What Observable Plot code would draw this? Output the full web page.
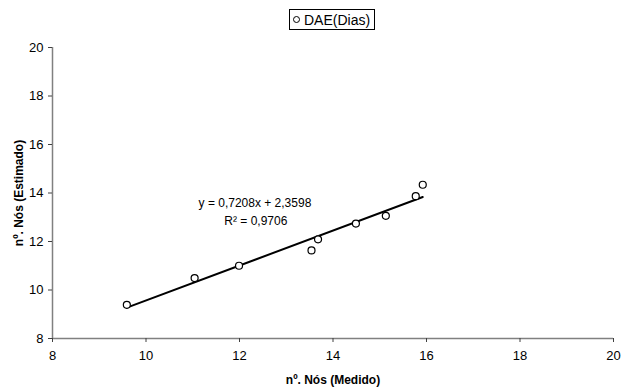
<!DOCTYPE html>
<html>
<head>
<meta charset="utf-8">
<script src="https://cdn.jsdelivr.net/npm/d3@7"></script>
<script src="https://cdn.jsdelivr.net/npm/@observablehq/plot@0.6"></script>
<style>
  html, body { margin: 0; padding: 0; background: #fff; }
  body { width: 626px; height: 389px; overflow: hidden; font-family: "Liberation Sans", Arial, sans-serif; }
  #legend { position: relative; height: 40px; }
  #legend .box { position: absolute; left: 289px; top: 9px; width: 84px; height: 19px; border: 1px solid #000; box-sizing: content-box; display: flex; align-items: center; font-size: 14px; color: #000; }
  #legend svg { margin-left: 2px; margin-right: 3px; }
</style>
</head>
<body>
<div id="legend"><div class="box"><svg width="9" height="9"><circle cx="4.5" cy="4.5" r="3" fill="white" stroke="black" stroke-width="1"/></svg><span id="legendLabel"></span></div></div>
<div id="chart"></div>
<script>
// Data
const seriesName = "DAE(Dias)";
const measured = [9.59, 11.04, 11.99, 13.54, 13.68, 14.49, 15.13, 15.77, 15.92];
const estimated = [9.39, 10.49, 11.0, 11.63, 12.09, 12.74, 13.06, 13.87, 14.34];
const slope = 0.7208;
const intercept = 2.3598;
const r2 = 0.9706;
const xTicks = [8, 10, 12, 14, 16, 18, 20];
const yTicks = [8, 10, 12, 14, 16, 18, 20];
const xLabel = "nº. Nós (Medido)";
const yLabel = "nº. Nós (Estimado)";

document.getElementById("legendLabel").textContent = seriesName;

const points = measured.map((x, i) => ({x, y: estimated[i]}));
const [x0, x1] = d3.extent(measured);
const trend = [x0, x1].map(x => ({x, y: slope * x + intercept}));
const fmt = v => v.toFixed(4).replace(".", ",");
const eqLines = [
  {t: `y = ${fmt(slope)}x + ${fmt(intercept)}`, x: 12.33, y: 13.57},
  {t: `R² = ${fmt(r2)}`, x: 12.35, y: 12.82}
];

const plot = Plot.plot({
  width: 626,
  height: 349,
  marginLeft: 52,
  marginRight: 13,
  marginTop: 7,
  marginBottom: 51,
  style: {fontFamily: "'Liberation Sans', Arial, sans-serif", fontSize: "12px", color: "#000", background: "#fff"},
  x: {domain: [8, 20]},
  y: {domain: [8, 20]},
  marks: [
    Plot.ruleX([8], {stroke: "#808080", strokeWidth: 1.5}),
    Plot.ruleY([8], {stroke: "#808080", strokeWidth: 1.5}),
    Plot.axisX({ticks: xTicks, tickSize: 4, tickPadding: 8, stroke: "#404040", fill: "#000", fontSize: 13,
      label: xLabel, labelAnchor: "center", labelArrow: "none", labelOffset: 45}),
    Plot.axisY({ticks: yTicks, tickSize: 4, tickPadding: 5, stroke: "#404040", fill: "#000", fontSize: 13,
      label: yLabel, labelAnchor: "center", labelArrow: "none", labelOffset: 38}),
    Plot.line(trend, {x: "x", y: "y", stroke: "#000", strokeWidth: 2}),
    Plot.dot(points, {x: "x", y: "y", r: 3.5, stroke: "#000", fill: "#fff", strokeWidth: 1.2}),
    Plot.text(eqLines, {x: "x", y: "y", text: "t", fill: "#000", fontSize: 12, textAnchor: "middle"})
  ]
});
plot.querySelectorAll("g[aria-label='x-axis label'] text, g[aria-label='y-axis label'] text").forEach(t => {
  t.setAttribute("font-weight", "bold");
  t.setAttribute("font-size", "12");
});
document.getElementById("chart").appendChild(plot);
</script>
</body>
</html>
